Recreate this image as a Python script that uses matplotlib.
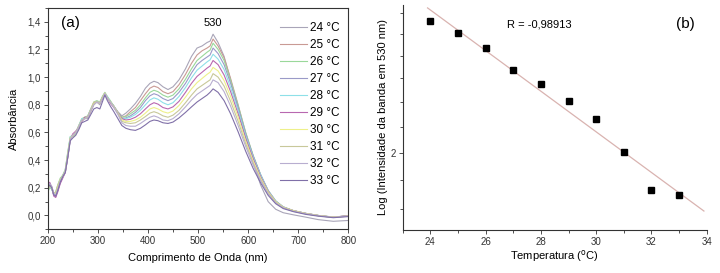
import numpy as np
import matplotlib
matplotlib.use("Agg")
import matplotlib.pyplot as plt
from matplotlib.ticker import MultipleLocator, NullFormatter, FixedLocator, FuncFormatter

plt.rcParams['font.family'] = ['Liberation Sans', 'DejaVu Sans']

# ---------------- data: panel (a) ----------------
wavelength = [200, 204, 208, 212, 216, 220, 225, 230, 235, 240, 245, 250, 256, 262, 268, 274,
              280, 286, 292, 298, 304, 309, 314, 319, 325, 332, 340,
              348, 356, 365, 375, 385, 395, 404, 412, 420, 430, 440, 450, 462, 475, 487, 498,
              508, 518, 524, 530, 540, 552, 565, 580, 595, 610, 625, 640, 655, 670, 690, 715,
              740, 770, 800]

abs_24 = [0.21, 0.23, 0.21, 0.16, 0.14, 0.18, 0.24, 0.29, 0.31, 0.42, 0.55, 0.585, 0.60, 0.63, 0.68, 0.70,
          0.70, 0.75, 0.80, 0.82, 0.80, 0.84, 0.88, 0.85, 0.82, 0.79, 0.75,
          0.72, 0.74, 0.77, 0.81, 0.86, 0.92, 0.955, 0.97, 0.96, 0.93, 0.91, 0.93, 0.98, 1.06, 1.15, 1.21,
          1.225, 1.25, 1.26, 1.31, 1.25, 1.15, 0.98, 0.77, 0.56, 0.38, 0.22, 0.10, 0.045, 0.02, 0.005, -0.012,
          -0.03, -0.042, -0.036]
abs_25 = [0.19, 0.22, 0.20, 0.15, 0.15, 0.20, 0.25, 0.28, 0.32, 0.44, 0.56, 0.58, 0.60, 0.64, 0.69, 0.71,
          0.71, 0.76, 0.81, 0.82, 0.81, 0.85, 0.885, 0.85, 0.82, 0.785, 0.74,
          0.71, 0.72, 0.75, 0.78, 0.83, 0.88, 0.92, 0.935, 0.925, 0.895, 0.88, 0.895, 0.945, 1.02, 1.10, 1.16,
          1.19, 1.21, 1.225, 1.275, 1.225, 1.14, 0.99, 0.80, 0.60, 0.43, 0.29, 0.175, 0.10, 0.06, 0.035, 0.015,
          0.0, -0.012, -0.002]
abs_26 = [0.17, 0.20, 0.19, 0.16, 0.17, 0.22, 0.27, 0.29, 0.33, 0.46, 0.57, 0.57, 0.59, 0.65, 0.70, 0.71,
          0.72, 0.77, 0.82, 0.83, 0.82, 0.86, 0.89, 0.86, 0.83, 0.79, 0.74,
          0.71, 0.715, 0.735, 0.76, 0.80, 0.85, 0.89, 0.905, 0.895, 0.87, 0.855, 0.87, 0.915, 0.985, 1.06, 1.12,
          1.15, 1.18, 1.195, 1.245, 1.20, 1.12, 0.975, 0.795, 0.60, 0.435, 0.295, 0.18, 0.105, 0.062, 0.035, 0.015,
          0.0, -0.012, -0.002]
abs_27 = [0.20, 0.23, 0.20, 0.15, 0.14, 0.19, 0.24, 0.28, 0.32, 0.43, 0.56, 0.58, 0.60, 0.64, 0.69, 0.70,
          0.71, 0.76, 0.81, 0.82, 0.81, 0.85, 0.88, 0.85, 0.82, 0.79, 0.745,
          0.70, 0.705, 0.72, 0.745, 0.78, 0.83, 0.865, 0.88, 0.87, 0.845, 0.83, 0.845, 0.89, 0.955, 1.03, 1.09,
          1.12, 1.145, 1.16, 1.21, 1.17, 1.09, 0.955, 0.78, 0.59, 0.43, 0.295, 0.18, 0.105, 0.062, 0.035, 0.015,
          0.0, -0.012, -0.002]
abs_28 = [0.18, 0.21, 0.19, 0.15, 0.16, 0.21, 0.26, 0.29, 0.33, 0.45, 0.57, 0.58, 0.60, 0.65, 0.70, 0.70,
          0.72, 0.77, 0.81, 0.82, 0.82, 0.85, 0.885, 0.86, 0.82, 0.79, 0.74,
          0.70, 0.70, 0.71, 0.73, 0.76, 0.80, 0.835, 0.85, 0.84, 0.815, 0.80, 0.815, 0.86, 0.925, 0.995, 1.05,
          1.08, 1.11, 1.125, 1.165, 1.13, 1.055, 0.925, 0.76, 0.575, 0.42, 0.29, 0.18, 0.105, 0.062, 0.035, 0.015,
          0.0, -0.012, -0.004]
abs_29 = [0.22, 0.24, 0.20, 0.14, 0.13, 0.17, 0.23, 0.27, 0.31, 0.42, 0.55, 0.59, 0.61, 0.64, 0.68, 0.71,
          0.71, 0.76, 0.81, 0.82, 0.81, 0.85, 0.88, 0.85, 0.81, 0.78, 0.74,
          0.70, 0.69, 0.695, 0.71, 0.735, 0.77, 0.80, 0.815, 0.805, 0.78, 0.77, 0.785, 0.825, 0.89, 0.955, 1.005,
          1.035, 1.065, 1.08, 1.12, 1.09, 1.015, 0.895, 0.735, 0.56, 0.41, 0.28, 0.175, 0.10, 0.06, 0.035, 0.015,
          0.0, -0.012, -0.002]
abs_30 = [0.19, 0.22, 0.20, 0.16, 0.16, 0.21, 0.26, 0.28, 0.32, 0.44, 0.56, 0.58, 0.60, 0.64, 0.69, 0.70,
          0.71, 0.76, 0.81, 0.82, 0.81, 0.85, 0.885, 0.85, 0.82, 0.785, 0.74,
          0.69, 0.68, 0.68, 0.69, 0.71, 0.74, 0.77, 0.78, 0.77, 0.75, 0.74, 0.755, 0.795, 0.855, 0.915, 0.96,
          0.99, 1.02, 1.035, 1.07, 1.045, 0.975, 0.86, 0.71, 0.54, 0.395, 0.27, 0.17, 0.10, 0.06, 0.035, 0.015,
          0.0, -0.012, -0.004]
abs_31 = [0.18, 0.21, 0.20, 0.16, 0.17, 0.22, 0.26, 0.29, 0.33, 0.45, 0.56, 0.57, 0.60, 0.65, 0.69, 0.70,
          0.72, 0.77, 0.82, 0.82, 0.82, 0.85, 0.885, 0.85, 0.82, 0.79, 0.74,
          0.68, 0.67, 0.665, 0.67, 0.69, 0.715, 0.74, 0.75, 0.74, 0.72, 0.71, 0.725, 0.76, 0.815, 0.87, 0.915,
          0.94, 0.965, 0.98, 1.025, 1.00, 0.935, 0.825, 0.68, 0.52, 0.38, 0.26, 0.165, 0.095, 0.058, 0.032, 0.012,
          -0.002, -0.014, -0.005]
abs_32 = [0.21, 0.23, 0.21, 0.16, 0.15, 0.19, 0.25, 0.28, 0.32, 0.43, 0.55, 0.58, 0.60, 0.64, 0.69, 0.70,
          0.71, 0.76, 0.80, 0.82, 0.81, 0.84, 0.88, 0.85, 0.82, 0.78, 0.73,
          0.67, 0.65, 0.645, 0.645, 0.665, 0.69, 0.71, 0.72, 0.71, 0.69, 0.685, 0.70, 0.735, 0.785, 0.835, 0.875,
          0.90, 0.925, 0.94, 0.98, 0.96, 0.895, 0.79, 0.65, 0.50, 0.365, 0.25, 0.155, 0.09, 0.055, 0.03, 0.012,
          -0.002, -0.014, -0.005]
abs_33 = [0.20, 0.22, 0.20, 0.15, 0.14, 0.18, 0.24, 0.28, 0.31, 0.42, 0.54, 0.56, 0.58, 0.62, 0.67, 0.68,
          0.69, 0.73, 0.77, 0.78, 0.77, 0.82, 0.87, 0.83, 0.79, 0.75, 0.70,
          0.65, 0.63, 0.62, 0.615, 0.63, 0.655, 0.68, 0.69, 0.685, 0.67, 0.665, 0.675, 0.705, 0.745, 0.785, 0.82,
          0.845, 0.87, 0.89, 0.915, 0.89, 0.83, 0.735, 0.605, 0.465, 0.34, 0.235, 0.145, 0.085, 0.05, 0.028, 0.008,
          -0.005, -0.016, -0.008]

spectra = [abs_24, abs_25, abs_26, abs_27, abs_28, abs_29, abs_30, abs_31, abs_32, abs_33]
temp_labels = ['24 °C', '25 °C', '26 °C', '27 °C', '28 °C', '29 °C', '30 °C', '31 °C', '32 °C', '33 °C']
colors = ['#a9a5b8', '#c99a94', '#9ad89a', '#9a9ac8', '#8ee0e8',
          '#b868b0', '#eef08a', '#c8c89a', '#b8aed0', '#8070a8']

# ---------------- data: panel (b) ----------------
temperature = [24, 25, 26, 27, 28, 29, 30, 31, 32, 33]
log_intensity = [2.560, 2.506, 2.435, 2.338, 2.276, 2.203, 2.131, 2.003, 1.866, 1.848]

fig = plt.figure(figsize=(7.2, 2.73), dpi=100)

# ---- panel (a) ----
ax1 = fig.add_axes([0.0663, 0.160, 0.4175, 0.811])
for y, lab, c in zip(spectra, temp_labels, colors):
    ax1.plot(wavelength, y, color=c, lw=0.8, label=lab)
ax1.set_xlim(200, 800)
ax1.set_ylim(-0.1, 1.5)
ax1.xaxis.set_major_locator(MultipleLocator(100))
ax1.xaxis.set_minor_locator(MultipleLocator(50))
ax1.yaxis.set_major_locator(FixedLocator([0.0, 0.2, 0.4, 0.6, 0.8, 1.0, 1.2, 1.4]))
ax1.yaxis.set_minor_locator(MultipleLocator(0.1))
ax1.yaxis.set_major_formatter(FuncFormatter(lambda v, p: f"{v:.1f}".replace('.', ',')))
ax1.tick_params(which='both', direction='out', labelsize=7, width=0.6, colors='#333333')
ax1.tick_params(which='major', length=3, pad=2)
ax1.tick_params(which='minor', length=2)
for s in ax1.spines.values():
    s.set_linewidth(0.8)
    s.set_color('#333333')
ax1.set_xlabel('Comprimento de Onda (nm)', fontsize=8, labelpad=5)
ax1.set_ylabel('Absorbância', fontsize=8, labelpad=6)
ax1.text(0.045, 0.965, '(a)', transform=ax1.transAxes, fontsize=11, va='top', ha='left')
ax1.text(530, 1.39, '530', fontsize=8, ha='center', va='center')
leg = ax1.legend(loc='upper right', bbox_to_anchor=(1.0, 0.975), frameon=False, fontsize=8.5,
                 handlelength=2.3, labelspacing=0.43, handletextpad=0.3, borderaxespad=0.3)

# ---- panel (b) ----
ax2 = fig.add_axes([0.5593, 0.1575, 0.4222, 0.8245])
coef = np.polyfit(temperature, np.log10(log_intensity), 1)
xfit = np.array([23.9, 33.9])
ax2.plot(xfit, 10 ** np.polyval(coef, xfit), color='#d9b3b0', lw=0.9)
ax2.plot(temperature, log_intensity, 's', color='black', ms=3.8)
ax2.set_yscale('log')
ax2.set_xlim(23, 34)
ax2.set_ylim(1.731, 2.64)
ax2.xaxis.set_major_locator(MultipleLocator(2))
ax2.xaxis.set_minor_locator(MultipleLocator(1))
ax2.yaxis.set_major_locator(FixedLocator([2]))
ax2.yaxis.set_major_formatter(FuncFormatter(lambda v, p: f"{v:g}"))
ax2.yaxis.set_minor_locator(FixedLocator([1.8, 1.9, 2.1, 2.2, 2.3, 2.4, 2.5, 2.6]))
ax2.yaxis.set_minor_formatter(NullFormatter())
ax2.tick_params(which='both', direction='out', labelsize=7, width=0.6, colors='#333333')
ax2.tick_params(which='major', length=3, pad=2)
ax2.tick_params(which='minor', length=2)
ax2.spines['top'].set_visible(False)
ax2.spines['right'].set_visible(False)
for s in ('left', 'bottom'):
    ax2.spines[s].set_linewidth(0.8)
    ax2.spines[s].set_color('#333333')
ax2.set_xlabel('Temperatura ($^{\\mathrm{o}}$C)', fontsize=8, labelpad=1)
ax2.set_ylabel('Log (Intensidade da banda em 530 nm)', fontsize=8, labelpad=2)
ax2.text(0.45, 0.915, 'R = -0,98913', transform=ax2.transAxes, fontsize=8, ha='center', va='center')
ax2.text(0.96, 0.915, '(b)', transform=ax2.transAxes, fontsize=11, ha='right', va='center')

fig.savefig('out.png', dpi=100)
